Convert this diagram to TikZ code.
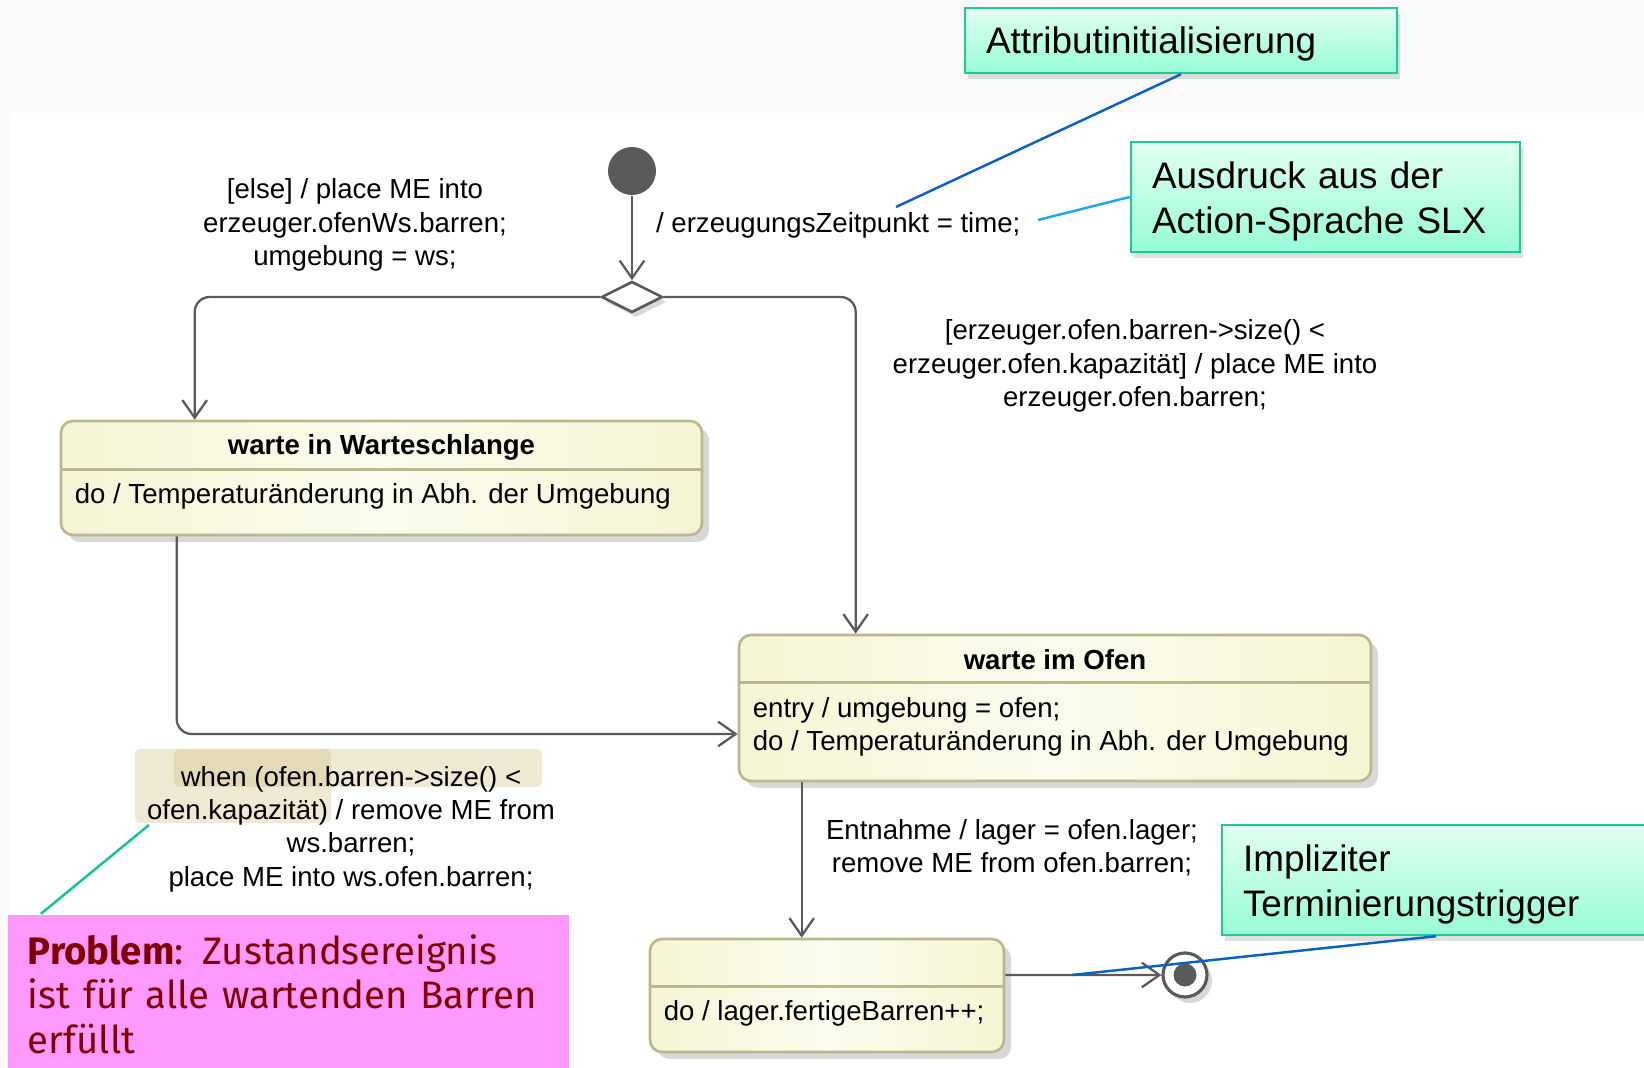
\documentclass[tikz,border=0pt]{standalone}
\usepackage{fontspec}
\setmainfont{Liberation Sans}
\newfontfamily\handfont{Fira Sans}
\usepackage{xcolor}
\usepackage{tikz}
\usetikzlibrary{positioning}
\usetikzlibrary{shapes.geometric}
\usetikzlibrary{arrows.meta}
\usetikzlibrary{shadows}
\definecolor{linegray}{HTML}{5A5A5A}
\definecolor{stborder}{HTML}{B8B88C}
\definecolor{stfill}{HTML}{F5F5D4}
\definecolor{notetop}{HTML}{E2FFF2}
\definecolor{notebot}{HTML}{96FCD6}
\definecolor{noteborder}{HTML}{1CCB92}
\definecolor{hilite}{HTML}{EFE9D3}
\definecolor{hilitedark}{HTML}{E4DBB6}
\definecolor{pinkbox}{HTML}{FF99FF}
\definecolor{darkred}{HTML}{800000}
\definecolor{calloutblue}{HTML}{0B62BE}
\definecolor{calloutcyan}{HTML}{1EA8E6}
\definecolor{calloutgreen}{HTML}{12C49A}
\tikzset{
    mystate/.style = {rectangle, rounded corners=0.12cm, draw=stborder, line width=0.75pt, left color=stfill, right color=stfill, middle color=white!60!stfill, inner sep=0pt, drop shadow={opacity=0.3, shadow xshift=0.07cm, shadow yshift=-0.07cm}},
    mytitle/.style = {inner sep=0pt, anchor=mid, font=\fontsize{7.85}{9.5}\selectfont\bfseries},
    mytext/.style = {inner sep=0pt, align=left, font=\fontsize{7.85}{9.5}\selectfont},
    mylabel/.style = {inner sep=0pt, align=center, font=\fontsize{7.85}{9.5}\selectfont},
    mynote/.style = {rectangle, draw=noteborder, line width=0.7pt, top color=notetop, bottom color=notebot, align=left, inner xsep=0.21cm, inner ysep=0pt, text depth=12.6pt, font=\fontsize{10.5}{12.8}\selectfont, drop shadow={opacity=0.25, shadow xshift=0.03cm, shadow yshift=-0.06cm}},
    initst/.style = {circle, fill=linegray, minimum size=0.48cm, inner sep=0pt},
    decision/.style = {diamond, draw=linegray, fill=white, line width=0.75pt, minimum width=0.61cm, minimum height=0.31cm, inner sep=0pt, drop shadow={opacity=0.3, shadow xshift=0.04cm, shadow yshift=-0.05cm}},
    finalst/.style = {circle, draw=linegray, fill=white, line width=0.9pt, minimum size=0.44cm, inner sep=0pt, drop shadow={opacity=0.3, shadow xshift=0.05cm, shadow yshift=-0.06cm}},
}

\begin{document}
\begin{tikzpicture}[
	line width=0.65pt,
	font=\fontsize{7.85}{9.5}\selectfont
]
\tikzset{
    edget/.style = {draw=linegray, -{Straight Barb[length=5pt,width=7pt]}},
    edgec/.style = {line width=0.7pt},
    divider/.style = {draw=stborder, line width=0.75pt},
}
\useasboundingbox (0,0) rectangle (16.44,10.68);
\fill[black!2] (0,0) rectangle (16.44,10.68);
\fill[white] (0.09,0) rectangle (16.44,9.55);

% states
\node[mystate, minimum width=6.41cm, minimum height=1.14cm] at (3.815,5.90) (queue) {};
\node[mytitle] at ([yshift=-0.26cm]queue.north) (queueTitle) {warte in Warteschlange};
\draw[divider] ([yshift=-0.5cm]queue.north west) -- ([yshift=-0.5cm]queue.north east);
\node[mytext, anchor=mid west] at ([xshift=0.14cm,yshift=-0.75cm]queue.north west) (queueDo) {do / Temperaturänderung in Abh. der Umgebung};

\node[mystate, minimum width=6.32cm, minimum height=1.46cm] at (10.55,3.60) (oven) {};
\node[mytitle] at ([yshift=-0.27cm]oven.north) (ovenTitle) {warte im Ofen};
\draw[divider] ([yshift=-0.49cm]oven.north west) -- ([yshift=-0.49cm]oven.north east);
\node[mytext, anchor=west] at ([xshift=0.14cm,yshift=-0.93cm]oven.north west) (ovenDo) {entry / umgebung = ofen;\\do / Temperaturänderung in Abh. der Umgebung};

\node[mystate, minimum width=3.54cm, minimum height=1.13cm] at (8.27,0.725) (store) {};
\draw[divider] ([yshift=-0.49cm]store.north west) -- ([yshift=-0.49cm]store.north east);
\node[mytext, anchor=mid west] at ([xshift=0.14cm,yshift=-0.74cm]store.north west) (storeDo) {do / lager.fertigeBarren++;};

\node[initst] at (6.32,8.97) (init) {};
\node[decision] at (6.32,7.71) (dec) {};
\node[finalst] at (11.85,0.93) (final) {};
\node[circle, fill=linegray, minimum size=0.23cm, inner sep=0pt] at (final) (finalDot) {};

% transitions
\draw[edget] (init) -- (dec);
\draw[edget, rounded corners=0.15cm] (dec.west) -| ([xshift=1.35cm]queue.north west);
\draw[edget, rounded corners=0.15cm] (dec.east) -| ([xshift=1.18cm]oven.north west);
\draw[edget, rounded corners=0.15cm] ([xshift=1.17cm]queue.south west) |- ([yshift=-0.26cm]oven.west);
\coordinate (ovenOut) at ([xshift=0.64cm]oven.south west);
\draw[edget] (ovenOut) -- (ovenOut |- store.north);
\draw[edget] ([yshift=0.205cm]store.east) -- (final);

% labels
\node[mylabel] at (3.55,8.43) (elseLbl) {[else] / place ME into\\erzeuger.ofenWs.barren;\\umgebung = ws;};
\node[mylabel, anchor=mid west] at (6.55,8.45) (initLbl) {/ erzeugungsZeitpunkt = time;};
\node[mylabel] at (11.35,7.02) (ovenLbl) {[erzeuger.ofen.barren->size() <\\erzeuger.ofen.kapazität] / place ME into\\erzeuger.ofen.barren;};
\fill[hilite, rounded corners=0.06cm] (1.35,3.19) -- (5.42,3.19) -- (5.42,2.81) -- (3.31,2.81) -- (3.31,2.45) -- (1.35,2.45) -- cycle;
\fill[hilitedark, rounded corners=0.06cm] (1.74,3.19) rectangle (3.31,2.81);
\node[mylabel] at (3.51,2.39) (whenLbl) {when (ofen.barren->size() <\\ofen.kapazität) / remove ME from\\ws.barren;\\place ME into ws.ofen.barren;};
\node[mylabel] at (10.12,2.20) (takeLbl) {Entnahme / lager = ofen.lager;\\remove ME from ofen.barren;};

% notes
\node[mynote, minimum width=4.32cm, minimum height=0.65cm, text width=3.9cm, text depth=0pt] at (11.81,10.275) (attrib) {Attributinitialisierung};
\node[mynote, minimum width=3.89cm, minimum height=1.10cm, text width=3.47cm] at (13.255,8.71) (exprNote) {Ausdruck aus der\\Action-Sprache SLX};
\node[mynote, minimum width=4.38cm, minimum height=1.10cm, text width=3.96cm] at (14.41,1.88) (termNote) {Impliziter\\Terminierungstrigger};
\node[rectangle, fill=pinkbox, minimum width=5.61cm, minimum height=1.58cm, text width=5.21cm, inner xsep=0.2cm, align=left, text=darkred, font=\handfont\fontsize{10.9}{12.7}\selectfont] at (2.885,0.74) (problem) {\textbf{Problem}: Zustandsereignis\\ist für alle wartenden Barren\\erfüllt};

\coordinate (attribTip) at (8.96,8.61);
\coordinate (exprTip) at (10.38,8.48);
\coordinate (termTip) at (10.72,0.93);
\coordinate (probTip) at (1.49,2.43);
\draw[edgec, calloutblue] (attrib.south) -- (attribTip);
\draw[edgec, calloutcyan] (exprNote.west) -- (exprTip);
\draw[edgec, calloutblue] ([xshift=-0.05cm]termNote.south) -- (termTip);
\draw[edgec, calloutgreen] ([xshift=0.34cm]problem.north west) -- (probTip);

\end{tikzpicture}
\end{document}
